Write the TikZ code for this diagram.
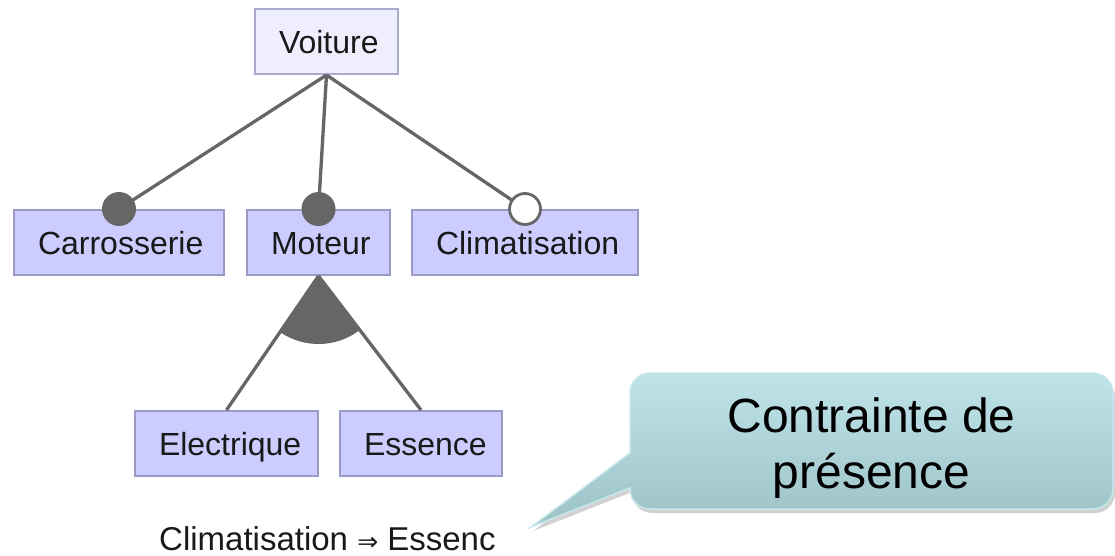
\documentclass[tikz,border=0pt]{standalone}
\usepackage{fontspec}
\setmainfont{Liberation Sans}
\newfontfamily\dejavu{DejaVu Sans}
\usetikzlibrary{shadows}
\definecolor{linegray}{HTML}{666666}
\definecolor{rootfill}{HTML}{EEEEFC}
\definecolor{rootdraw}{HTML}{AAAACC}
\definecolor{featfill}{HTML}{CCCCFF}
\definecolor{featdraw}{HTML}{9A9AC4}
\definecolor{calltop}{HTML}{BEE4EA}
\definecolor{callbot}{HTML}{9CC2C6}
\definecolor{calldraw}{HTML}{C6E8EC}
\tikzset{
  featbox/.style={rectangle, draw=featdraw, fill=featfill, line width=2pt,
    minimum height=65pt, inner xsep=24pt, inner ysep=0pt, align=left,
    text height=23pt, text depth=0pt, font=\fontsize{32}{32}\selectfont, text=black!90},
  rootbox/.style={featbox, draw=rootdraw, fill=rootfill},
  edge/.style={draw=linegray, line width=3.3pt},
  mandatory/.style={fill=linegray},
  optional/.style={draw=linegray, fill=white, line width=2.8pt}
}
\begin{document}
\begin{tikzpicture}[x=1pt,y=-1pt]
\useasboundingbox (0,0) rectangle (1115,555);
% feature boxes
\node[rootbox, text width=95pt] (voit) at (326.5,41.5) {Voiture};
\node[featbox, text width=162pt] (carr) at (119,242.5) {Carrosserie};
\node[featbox, text width=95pt] (mot) at (318.5,242.5) {Moteur};
\node[featbox, text width=178pt] (clim) at (525,242.5) {Climatisation};
\node[featbox, text width=135pt] (elec) at (226.5,443.5) {Electrique};
\node[featbox, text width=114pt] (ess) at (421,443.5) {Essence};
% edges
\draw[edge] (voit.south) -- (carr.north);
\draw[edge] (voit.south) -- (mot.north);
\draw[edge] (voit.south) -- (clim.north);
\draw[edge] (mot.south) -- (elec.north);
\draw[edge] (mot.south) -- (ess.north);
% alternative group sector
\fill[linegray] (mot.south) -- ++(53:68) arc[start angle=53, end angle=124.1, radius=68] -- cycle;
% mandatory / optional markers
\fill[mandatory] (carr.north) circle (17);
\fill[mandatory] (mot.north) circle (17);
\draw[optional] (clim.north) circle (15.5);
% constraint text
\node[anchor=base west, inner sep=0pt, font=\fontsize{33}{33}\selectfont, text=black!90] (cons) at (159,550)
  {Climatisation {\dejavu\fontsize{25}{25}\selectfont ⇒} Essenc};
% callout
\coordinate (tip) at (531,527);
\path[drop shadow={shadow xshift=2pt, shadow yshift=-4pt, opacity=0.3, fill=black!60},
      top color=calltop, bottom color=callbot, draw=calldraw, line width=1.5pt]
  (630,453) [rounded corners=20pt] -- (630,373) -- (1113,373) -- (1113,509) -- (630,509)
  [sharp corners] -- (630,488) -- (tip) -- cycle;
\node[align=center, inner sep=0pt, font=\fontsize{48}{56}\selectfont, text=black] (bubble) at (871.5,448)
  {Contrainte de\\présence};
\end{tikzpicture}
\end{document}
